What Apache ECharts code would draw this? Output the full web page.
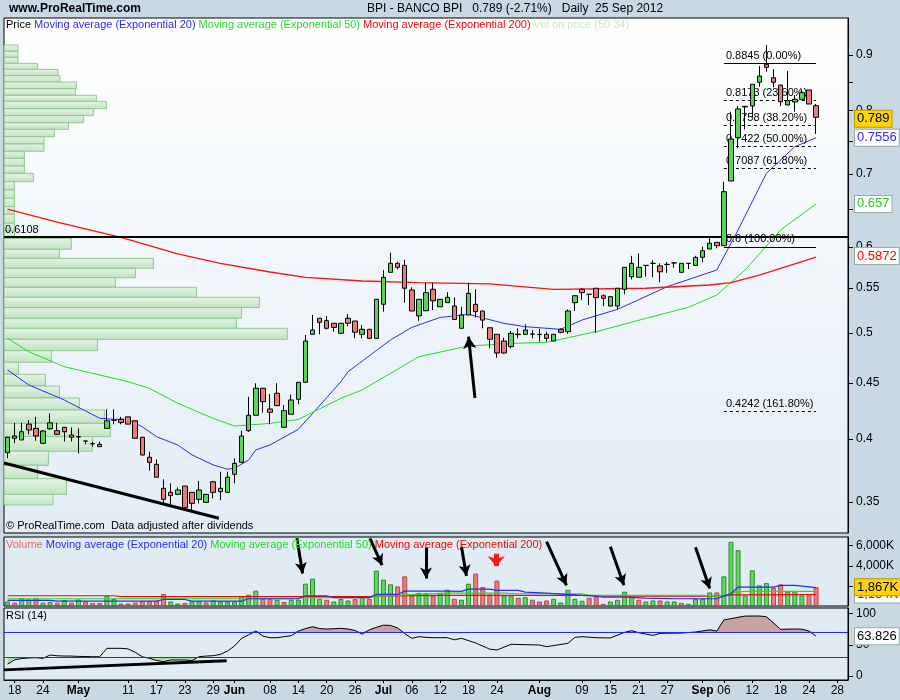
<!DOCTYPE html>
<html><head><meta charset="utf-8">
<script src="https://cdn.jsdelivr.net/npm/echarts@6/dist/echarts.min.js"></script>
<style>html,body{margin:0;padding:0;background:#c9d9e3}#c{width:900px;height:700px}</style>
</head><body><div id="c"></div><script>
// ---------- DATA ----------
const tradingDays = [
 'Apr 17','Apr 18','Apr 19','Apr 20','Apr 23','Apr 24','Apr 25','Apr 26','Apr 27','Apr 30',
 'May 2','May 3','May 4','May 7','May 8','May 9','May 10','May 11','May 14','May 15','May 16','May 17','May 18','May 21','May 22','May 23','May 24','May 25','May 28','May 29','May 30','May 31',
 'Jun 1','Jun 4','Jun 5','Jun 6','Jun 7','Jun 8','Jun 11','Jun 12','Jun 13','Jun 14','Jun 15','Jun 18','Jun 19','Jun 20','Jun 21','Jun 22','Jun 25','Jun 26','Jun 27','Jun 28','Jun 29',
 'Jul 2','Jul 3','Jul 4','Jul 5','Jul 6','Jul 9','Jul 10','Jul 11','Jul 12','Jul 13','Jul 16','Jul 17','Jul 18','Jul 19','Jul 20','Jul 23','Jul 24','Jul 25','Jul 26','Jul 27','Jul 30','Jul 31',
 'Aug 1','Aug 2','Aug 3','Aug 6','Aug 7','Aug 8','Aug 9','Aug 10','Aug 13','Aug 14','Aug 15','Aug 16','Aug 17','Aug 20','Aug 21','Aug 22','Aug 23','Aug 24','Aug 27','Aug 28','Aug 29','Aug 30','Aug 31',
 'Sep 3','Sep 4','Sep 5','Sep 6','Sep 7','Sep 10','Sep 11','Sep 12','Sep 13','Sep 14','Sep 17','Sep 18','Sep 19','Sep 20','Sep 21','Sep 24','Sep 25'];
const futureDays = ['Sep 26','Sep 27','Sep 28','Oct 1'];

const xTickDates = ['Apr 18','Apr 24','May 2','May 11','May 17','May 23','May 29','Jun 1','Jun 8','Jun 14','Jun 20','Jun 26','Jul 2','Jul 6','Jul 12','Jul 18','Jul 24','Aug 1','Aug 9','Aug 15','Aug 21','Aug 27','Sep 3','Sep 6','Sep 12','Sep 18','Sep 24','Sep 28'];
const xTickTexts = ['18','24','May','11','17','23','29','Jun','08','14','20','26','Jul','06','12','18','24','Aug','09','15','21','27','Sep','06','12','18','24','28'];

const open = [
0.3884,0.4024,0.3990,0.4126,0.4089,0.3962,0.4086,0.4069,0.4098,0.4032,
0.4018,0.3981,0.3957,0.3934,0.4089,0.4160,0.4168,0.4190,0.4155,0.4013,
0.3847,0.3790,0.3603,0.3572,0.3557,0.3620,0.3572,0.3520,0.3497,0.3653,
0.3577,0.3572,0.3711,0.3806,0.4069,0.4204,0.4451,0.4260,0.4404,0.4098,
0.4213,0.4348,0.4507,0.4988,0.5160,0.5134,0.5106,0.4999,0.5160,0.5130,
0.4988,0.5041,0.4946,0.5315,0.5686,0.5795,0.5770,0.5478,0.5186,0.5243,
0.5486,0.5287,0.5333,0.5295,0.5052,0.5196,0.5315,0.5240,0.5058,0.4988,
0.4918,0.4860,0.4985,0.4988,0.4990,0.4988,0.4988,0.4918,0.5041,0.5016,
0.5333,0.5486,0.5428,0.5498,0.5412,0.5295,0.5295,0.5486,0.5634,0.5627,
0.5770,0.5795,0.5765,0.5782,0.5801,0.5686,0.5795,0.5770,0.5870,0.5973,
0.6058,0.6015,0.6896,0.7557,0.8065,0.8081,0.8496,0.8825,0.8578,0.8447,
0.8098,0.8149,0.8196,0.8359,0.8085];
const high = [
0.4013,0.4137,0.4137,0.4162,0.4190,0.4075,0.4219,0.4137,0.4100,0.4098,
0.4089,0.3981,0.3976,0.3976,0.4257,0.4257,0.4190,0.4190,0.4160,0.4013,
0.3892,0.3830,0.3672,0.3641,0.3610,0.3620,0.3572,0.3659,0.3557,0.3660,
0.3731,0.3731,0.3838,0.4069,0.4372,0.4498,0.4451,0.4397,0.4498,0.4296,
0.4391,0.4507,0.4981,0.5196,0.5160,0.5185,0.5106,0.5106,0.5206,0.5130,
0.5087,0.5041,0.5371,0.5713,0.5928,0.5815,0.5840,0.5509,0.5371,0.5563,
0.5563,0.5371,0.5452,0.5394,0.5287,0.5563,0.5486,0.5240,0.5058,0.4988,
0.4953,0.5023,0.5052,0.5094,0.5034,0.5048,0.5016,0.4988,0.5052,0.5258,
0.5412,0.5498,0.5430,0.5498,0.5428,0.5401,0.5498,0.5747,0.5888,0.5917,
0.5775,0.5833,0.5795,0.5810,0.5810,0.5795,0.5795,0.5888,0.6003,0.6123,
0.6058,0.6886,0.7984,0.8081,0.8081,0.8460,0.8793,0.9192,0.8732,0.8447,
0.8700,0.8271,0.8371,0.8359,0.8115];
const low = [
0.3838,0.3962,0.3990,0.4038,0.3984,0.3962,0.4075,0.4032,0.3976,0.3976,
0.3878,0.3953,0.3934,0.3934,0.4089,0.4124,0.4124,0.4126,0.4004,0.3865,
0.3739,0.3688,0.3483,0.3483,0.3557,0.3458,0.3429,0.3490,0.3497,0.3527,
0.3513,0.3572,0.3641,0.3806,0.4059,0.4204,0.4227,0.4125,0.4290,0.4098,
0.4213,0.4303,0.4507,0.4988,0.4988,0.5041,0.5016,0.4999,0.5076,0.4946,
0.4946,0.4942,0.4946,0.5232,0.5686,0.5722,0.5333,0.5240,0.5132,0.5243,
0.5250,0.5287,0.5333,0.5147,0.5052,0.5196,0.5169,0.5052,0.4843,0.4746,
0.4789,0.4843,0.4946,0.4988,0.4946,0.4911,0.4911,0.4918,0.4999,0.4992,
0.5240,0.5364,0.5306,0.5005,0.5295,0.5295,0.5258,0.5428,0.5603,0.5627,
0.5634,0.5627,0.5568,0.5680,0.5742,0.5686,0.5725,0.5765,0.5810,0.5973,
0.5982,0.6015,0.6896,0.7390,0.7692,0.7890,0.8417,0.8688,0.8406,0.8081,
0.8098,0.7984,0.8196,0.8115,0.7616];
const close = [
0.4013,0.4004,0.4060,0.4075,0.4024,0.4066,0.4137,0.4038,0.4060,0.4013,
0.4015,0.3981,0.3960,0.3953,0.4155,0.4160,0.4140,0.4126,0.4004,0.3865,
0.3806,0.3688,0.3520,0.3547,0.3590,0.3458,0.3490,0.3590,0.3557,0.3572,
0.3603,0.3688,0.3798,0.4024,0.4204,0.4451,0.4326,0.4230,0.4290,0.4245,
0.4342,0.4507,0.4918,0.5034,0.5116,0.5052,0.5062,0.5106,0.5106,0.5010,
0.5041,0.4946,0.5371,0.5627,0.5795,0.5747,0.5498,0.5240,0.5371,0.5447,
0.5354,0.5371,0.5394,0.5147,0.5196,0.5440,0.5232,0.5140,0.4936,0.4795,
0.4795,0.4999,0.4990,0.5034,0.4990,0.4985,0.4946,0.4988,0.5009,0.5240,
0.5412,0.5447,0.5428,0.5390,0.5382,0.5401,0.5498,0.5747,0.5795,0.5747,
0.5770,0.5795,0.5692,0.5782,0.5801,0.5795,0.5795,0.5868,0.5952,0.6046,
0.6015,0.6742,0.7536,0.8030,0.8075,0.8460,0.8609,0.8769,0.8496,0.8154,
0.8172,0.8196,0.8311,0.8115,0.7890];
// volume in thousands of shares
const volume = [
450,330,800,650,800,330,400,330,600,330,
650,450,300,300,1000,700,250,250,350,500,
500,500,1200,450,250,300,450,450,350,550,
450,450,450,990,1120,1520,720,720,620,400,
620,620,2220,2720,720,620,450,690,550,690,
980,700,3520,2620,2150,1950,2950,1000,1300,1250,
1050,1250,1620,720,620,2220,3220,1880,1150,2520,
1050,1050,820,880,620,450,550,720,350,1620,
720,520,820,950,220,450,620,1420,950,620,
450,550,550,450,450,320,220,720,720,1350,
1350,2950,6380,5550,1050,3550,2050,2280,1820,2150,
1450,1450,1050,1050,1867];

// moving averages: [day index, value]
const ema20 = [[0,0.4626],[3,0.4482],[8,0.4342],[13,0.4177],[15,0.4168],[17,0.4168],[19,0.4103],[21,0.4018],[24,0.3948],[26,0.3866],[29,0.3785],[31,0.3751],[32,0.3759],[34,0.3825],[35,0.3907],[37,0.3948],[41,0.4081],[43,0.4219],[47,0.4513],[48,0.4609],[54,0.4929],[57,0.5062],[61,0.5169],[65,0.5204],[70,0.5105],[73,0.5069],[78,0.5041],[81,0.5141],[86,0.5258],[93,0.5516],[100,0.5714],[102,0.6046],[103,0.6218],[107,0.7009],[111,0.7415],[114,0.7556]];
const ema50 = [[0,0.4946],[3,0.4808],[8,0.4658],[13,0.4577],[17,0.4513],[20,0.4450],[24,0.4312],[29,0.4176],[32,0.4109],[37,0.4132],[41,0.4167],[47,0.4357],[50,0.4435],[58,0.4758],[65,0.4867],[72,0.4895],[76,0.4905],[83,0.5016],[90,0.5159],[96,0.5281],[100,0.5420],[104,0.5714],[109,0.6218],[114,0.657]];
const ema200 = [[0,0.6500],[7,0.6324],[16,0.6123],[24,0.5911],[30,0.5796],[37,0.5690],[42,0.5627],[50,0.5583],[58,0.5563],[68,0.5548],[77,0.5486],[90,0.5498],[99,0.5536],[102,0.5563],[106,0.5653],[114,0.5872]];

const volEma20 = [[0,550],[6,550],[7,480],[21,480],[22,650],[25,650],[26,480],[33,480],[34,720],[41,720],[42,1020],[45,1020],[46,830],[51,830],[52,1150],[55,1150],[56,1480],[62,1480],[64,1450],[65,1680],[68,1680],[69,1550],[72,1550],[73,1380],[76,1280],[81,1050],[83,980],[84,880],[87,880],[90,780],[94,720],[100,720],[101,1000],[102,1220],[103,1880],[108,1880],[109,2050],[111,2050],[114,1820]];
const volEma50 = [[0,720],[40,720],[42,830],[51,830],[52,980],[56,1100],[62,1280],[70,1280],[72,1220],[81,1220],[82,1050],[98,1050],[100,950],[101,950],[102,1320],[104,1450],[114,1450]];
const volEma200 = [[0,1020],[15,1020],[16,930],[51,930],[53,1000],[61,1050],[82,1050],[83,980],[101,980],[102,1100],[114,1134]];

const rsi = [[0,19],[1,26],[2,28],[3,29],[4,29.4],[5,28.4],[6,33.7],[7,32.5],[8,32],[9,32],[10,31.5],[12,31],[13,31],[14,44.4],[16,44.4],[17,43.4],[18,38],[19,31],[20,28.4],[21,25],[22,23],[23,25.7],[25,25.7],[26,24.6],[27,31],[28,32],[29,32.6],[30,34.7],[31,40],[32,48],[33,60.4],[34,66],[35,72.1],[36,64],[37,61.4],[38,61.4],[39,63],[40,64.6],[41,72],[42,76],[43,79],[44,76],[45,75.3],[46,75.8],[47,76.4],[48,75.3],[49,73],[50,67],[51,74],[52,78],[53,81.5],[54,81],[55,77],[56,68],[57,60.4],[58,63],[59,62],[60,61.4],[61,61.4],[62,61.5],[63,58],[64,60.4],[66,53],[68,43],[69,41.7],[71,50.8],[75,49.7],[76,47],[79,52.4],[80,62],[81,63],[83,61.4],[85,61],[87,70],[88,72.6],[89,69.4],[91,65],[92,68.4],[95,68.8],[97,70.5],[99,74],[100,72],[101,89.7],[103,94],[104,96],[106,96.1],[107,95],[109,74.8],[111,75.3],[112,75],[113,72],[114,63.826]];

// volume-on-price profile: bin edges (price, top to bottom) and relative volume per bin
const profileEdges = [0.9192,0.9071,0.8956,0.8843,0.8732,0.8615,0.8501,0.8381,0.8265,0.8161,0.8035,0.7917,0.7800,0.7692,0.7573,0.7457,0.7343,0.7235,0.7119,0.7010,0.6886,0.6767,0.6649,0.6532,0.6428,0.6307,0.6205,0.6108,0.5970,0.5857,0.5735,0.5622,0.5509,0.5394,0.5277,0.5160,0.5052,0.4936,0.4819,0.4702,0.4584,0.4472,0.4360,0.4251,0.4133,0.4018,0.3896,0.3782,0.3677,0.3557,0.3478];
const profileVol = [14,14,14,33.4,54,56,72.4,71.4,92.4,102.4,89.4,79.4,64.4,50.4,40,40,20.4,20.4,20.4,29.4,10.4,10.4,10.4,10.4,10.4,10.4,10.4,67.4,55.4,149.4,131.4,111.4,192.4,255.4,237.4,232.4,283.4,93.4,47.4,14.4,41.4,55.4,75.4,100.4,106.4,88.4,44.4,33.4,62.4,49];

// fibonacci retracement levels
const fibPrice = [0.8845,0.8173,0.7758,0.7422,0.7087,0.6,0.4242];
const fibPct = [0,23.6,38.2,50,61.8,100,161.8];
const fibFrom = 'Sep 6', fibTo = 'Sep 25';
const resistance = 0.6108;

// hand-drawn annotations [day index, value]
const priceTrend = [[-0.5,0.3800],[29.8,0.3382]];
const priceArrow = [[65.9,0.4360],[65.0,0.4963]];
const volArrows = [
 [[40.8,6730],[41.6,3230]],
 [[51.1,6730],[52.8,4060]],
 [[59.0,5830],[59.0,2730]],
 [[64.0,5890],[64.7,2990]],
 [[76.0,6390],[78.8,2060]],
 [[85.0,5890],[86.9,2060]],
 [[97.0,5830],[99.0,1730]]];
const volRedArrow = [[68.9,5200],[68.9,3960]];
const rsiTrend = [[-0.5,9.9],[30.9,24.6]];

const priceTicks = [0.35,0.4,0.45,0.5,0.55,0.6,0.65,0.7,0.75,0.8,0.85,0.9];
const priceTickLabels = [0.35,0.4,0.45,0.5,0.55,0.6,0.7,0.8,0.9];

// ---------- CHART ----------
const FONT = '"Liberation Sans", Arial, sans-serif';
const LN = Math.log;
const cats = tradingDays.concat(futureDays);
const N = cats.length;
const tickMap = new Map(xTickDates.map((d, i) => [d, xTickTexts[i]]));
const isTick = (idx, val) => tickMap.has(val);

const grad = (a, b) => new echarts.graphic.LinearGradient(0, 0, 0, 1, [{offset: 0, color: a}, {offset: 1, color: b}]);

const G0 = {left: 4, top: 18, width: 844, height: 515};
const G1 = {left: 4, top: 537, width: 844, height: 69};
const G2 = {left: 4, top: 608, width: 844, height: 72};

const hiddenCat = gi => ({type: 'category', gridIndex: gi, data: cats, show: false, boundaryGap: true, axisLine: {onZero: false}});
const hiddenVal = gi => ({type: 'value', gridIndex: gi, min: -0.5, max: N - 0.5, show: false, axisLine: {onZero: false}});

const lnPair = arr => arr.map(p => [p[0], LN(p[1])]);
const fmtPrice = v => String(parseFloat(v.toFixed(4)));

const candleData = open.map((o, i) => [LN(o), LN(close[i]), LN(low[i]), LN(high[i])]);
const volData = volume.map((v, i) => {
  const up = i === 0 ? close[i] >= open[i] : close[i] >= close[i - 1];
  return {value: v, itemStyle: up ? {color: '#5ed85e', borderColor: '#2e8b2e'} : {color: '#f07a7a', borderColor: '#b04a4a'}};
});

const SOLID = (color, width) => ({color, width, type: 'solid', opacity: 1});
const arrowLine = (pts, color, width, size) => [{coord: pts[0], symbol: 'none', lineStyle: SOLID(color, width)}, {coord: pts[1], symbol: 'arrow', symbolSize: size}];
const HIDDEN_LINE = {color: 'rgba(0,0,0,0)', width: 1, type: 'solid'};

const tagLabel = (text, color, bg, border) => ({show: true, position: 'end', distance: 7, formatter: text, color, backgroundColor: bg, borderColor: border, borderWidth: 1, padding: [2, 2, 1, 2], fontSize: 13, fontFamily: FONT});
const tag = (val, text, color, bg, border) => ({yAxis: val, lineStyle: HIDDEN_LINE, label: tagLabel(text, color, bg, border)});

const lastOf = a => a[a.length - 1];

const yBase = {type: 'value', position: 'right', splitLine: {show: false},
  axisLine: {show: true, onZero: false, lineStyle: {color: '#000'}}};

const option = {
  animation: false,
  backgroundColor: '#c9d9e3',
  grid: [
    Object.assign({show: true, backgroundColor: grad('#ffffff', '#e3edf5'), borderColor: '#000', borderWidth: 1}, G0),
    Object.assign({show: true, backgroundColor: '#e1ebf3', borderColor: '#000', borderWidth: 1}, G1),
    Object.assign({show: true, backgroundColor: '#e1ebf3', borderColor: '#000', borderWidth: 1}, G2)
  ],
  xAxis: [
    hiddenCat(0), hiddenVal(0),
    hiddenCat(1), hiddenVal(1),
    {type: 'category', gridIndex: 2, data: cats, boundaryGap: true,
      axisLine: {show: true, onZero: false, lineStyle: {color: '#000'}},
      axisTick: {show: true, interval: isTick, alignWithLabel: true, length: 3, lineStyle: {color: '#000'}},
      axisLabel: {interval: isTick, margin: 5, fontSize: 12, fontFamily: FONT, color: '#000',
        formatter: v => { const t = tickMap.get(v) || ''; return /^[A-Z]/.test(t) ? '{m|' + t + '}' : t; },
        rich: {m: {fontWeight: 'bold', fontSize: 12, fontFamily: FONT, color: '#000'}}},
      splitLine: {show: false}},
    hiddenVal(2),
    {type: 'value', gridIndex: 0, min: 0, max: 844, show: false, axisLine: {onZero: false}}
  ],
  yAxis: [
    Object.assign({}, yBase, {gridIndex: 0, min: LN(0.3278), max: LN(0.9732),
      axisTick: {show: true, length: 5, customValues: priceTicks.map(LN), lineStyle: {color: '#000'}},
      axisLabel: {customValues: priceTickLabels.map(LN), formatter: v => String(parseFloat(Math.exp(v).toFixed(2))), fontSize: 12, fontFamily: FONT, color: '#000', margin: 8}}),
    Object.assign({}, yBase, {gridIndex: 1, min: 0, max: 6860,
      axisTick: {show: true, length: 5, customValues: [2000, 4000, 6000], lineStyle: {color: '#000'}},
      axisLabel: {customValues: [2000, 4000, 6000], formatter: v => (v / 1000) + ',000K', fontSize: 12, fontFamily: FONT, color: '#000', margin: 8}}),
    Object.assign({}, yBase, {gridIndex: 2, min: -6.3, max: 108.9,
      axisTick: {show: true, length: 5, customValues: [0, 50, 100], lineStyle: {color: '#000'}},
      axisLabel: {customValues: [0, 50, 100], fontSize: 12, fontFamily: FONT, color: '#000', margin: 8}})
  ],
  series: [
    // volume on price profile
    {type: 'custom', xAxisIndex: 6, yAxisIndex: 0, z: 1, silent: true,
      data: profileVol.map((v, i) => [v, LN(profileEdges[i]), LN(profileEdges[i + 1])]),
      encode: {x: 0, y: [1, 2]},
      renderItem: (params, api) => {
        const a = api.coord([0, api.value(1)]);
        const b = api.coord([api.value(0), api.value(2)]);
        return {type: 'rect', shape: {x: a[0], y: a[1], width: b[0] - a[0], height: b[1] - a[1]},
          style: {fill: grad('#e4f4e4', '#bfe2bf'), stroke: '#8cc68c', lineWidth: 1, opacity: 0.95}};
      }},
    // candles
    {type: 'candlestick', xAxisIndex: 0, yAxisIndex: 0, z: 5, data: candleData, barWidth: 5,
      itemStyle: {color: '#55d655', color0: '#ef7878', borderColor: '#000', borderColor0: '#000', borderColorDoji: '#000', borderWidth: 1}},
    // moving averages
    {type: 'line', xAxisIndex: 1, yAxisIndex: 0, z: 4, data: lnPair(ema20), showSymbol: false, silent: true, lineStyle: {color: '#2a2aff', width: 1}},
    {type: 'line', xAxisIndex: 1, yAxisIndex: 0, z: 4, data: lnPair(ema50), showSymbol: false, silent: true, lineStyle: {color: '#1ee01e', width: 1}},
    {type: 'line', xAxisIndex: 1, yAxisIndex: 0, z: 4, data: lnPair(ema200), showSymbol: false, silent: true, lineStyle: {color: '#ff1010', width: 1.3}},
    // resistance line, trendline, arrow
    {type: 'line', xAxisIndex: 1, yAxisIndex: 0, z: 6, data: [], silent: true,
      markLine: {silent: true, symbol: 'none', animation: false,
        data: [
          {yAxis: LN(resistance), lineStyle: SOLID('#000', 2),
            label: {show: true, position: 'insideStartTop', formatter: String(resistance), color: '#000', fontSize: 11, fontFamily: FONT, distance: [1, 2]}},
          [{coord: [priceTrend[0][0], LN(priceTrend[0][1])], lineStyle: SOLID('#000', 3)}, {coord: [priceTrend[1][0], LN(priceTrend[1][1])]}],
          [{coord: [priceArrow[0][0], LN(priceArrow[0][1])], lineStyle: SOLID('#000', 3)}, {coord: [priceArrow[1][0], LN(priceArrow[1][1])], symbol: 'arrow', symbolSize: [10, 12]}]
        ]}},
    // fibonacci
    {type: 'line', xAxisIndex: 0, yAxisIndex: 0, z: 6, data: [], silent: true,
      markLine: {silent: true, symbol: 'none', animation: false,
        data: fibPrice.map((p, i) => [
          {coord: [fibFrom, LN(p)], lineStyle: {color: '#000', width: 1, type: (fibPct[i] === 0 || fibPct[i] === 100) ? 'solid' : [3, 3]},
            label: {show: true, position: 'insideStartTop', formatter: fmtPrice(p) + ' (' + fibPct[i].toFixed(2) + '%)', color: '#000', fontSize: 11, fontFamily: FONT, distance: [2, 2]}},
          {coord: [fibTo, LN(p)]}])}},
    // price tags on the axis
    {type: 'line', xAxisIndex: 1, yAxisIndex: 0, z: 10, data: [], silent: true,
      markLine: {silent: true, symbol: 'none', animation: false,
        data: [
          tag(LN(lastOf(ema200)[1]), fmtPrice(lastOf(ema200)[1]), '#ff0000', '#ffffff', '#9aa'),
          tag(LN(lastOf(ema50)[1]), fmtPrice(lastOf(ema50)[1]), '#22cc22', '#ffffff', '#9aa'),
          tag(LN(lastOf(ema20)[1]), fmtPrice(lastOf(ema20)[1]), '#2a2aff', '#ffffff', '#9aa'),
          tag(LN(lastOf(close)), fmtPrice(lastOf(close)), '#000', '#ffd400', '#b89a00')
        ]}},
    // volume
    {type: 'bar', xAxisIndex: 2, yAxisIndex: 1, z: 3, data: volData, barWidth: 5, itemStyle: {borderWidth: 1}},
    {type: 'line', xAxisIndex: 3, yAxisIndex: 1, z: 4, data: volEma200, showSymbol: false, silent: true, lineStyle: {color: '#ff0000', width: 1.2}},
    {type: 'line', xAxisIndex: 3, yAxisIndex: 1, z: 4, data: volEma50, showSymbol: false, silent: true, lineStyle: {color: '#1ee01e', width: 1.2}},
    {type: 'line', xAxisIndex: 3, yAxisIndex: 1, z: 4, data: volEma20, showSymbol: false, silent: true, lineStyle: {color: '#2a2aff', width: 1.2}},
    {type: 'line', xAxisIndex: 3, yAxisIndex: 1, z: 6, data: [], silent: true,
      markLine: {silent: true, symbol: 'none', animation: false,
        data: volArrows.map(a => arrowLine(a, '#000', 3, [9, 11])).concat([arrowLine(volRedArrow, '#ff1a1a', 5, [13, 10])])}},
    {type: 'line', xAxisIndex: 3, yAxisIndex: 1, z: 9, data: [], silent: true,
      markLine: {silent: true, symbol: 'none', animation: false,
        data: [
          {yAxis: lastOf(volEma200)[1], lineStyle: HIDDEN_LINE, label: tagLabel(lastOf(volEma200)[1].toLocaleString('en-US') + 'K', '#ff0000', '#ffffff', '#9aa')},
          {yAxis: lastOf(volume), lineStyle: HIDDEN_LINE, label: tagLabel(lastOf(volume).toLocaleString('en-US') + 'K', '#000', '#ffd400', '#b89a00')}
        ]}},
    // RSI
    {type: 'line', xAxisIndex: 5, yAxisIndex: 2, z: 2, data: rsi.map(p => [p[0], Math.max(p[1], 70)]), showSymbol: false, silent: true,
      lineStyle: {width: 0, opacity: 0}, areaStyle: {origin: 70, color: '#c9a2a2', opacity: 1}},
    {type: 'line', xAxisIndex: 5, yAxisIndex: 2, z: 2, data: rsi.map(p => [p[0], Math.min(p[1], 30)]), showSymbol: false, silent: true,
      lineStyle: {width: 0, opacity: 0}, areaStyle: {origin: 30, color: '#a9dca9', opacity: 1}},
    {type: 'line', xAxisIndex: 5, yAxisIndex: 2, z: 4, data: rsi, showSymbol: false, silent: true, lineStyle: {color: '#000', width: 1},
      markLine: {silent: true, symbol: 'none', animation: false,
        data: [
          {yAxis: 70, lineStyle: SOLID('#2525ff', 1), label: {show: false}},
          {yAxis: 30, lineStyle: SOLID('#2525ff', 1), label: {show: false}},
          [{coord: rsiTrend[0], lineStyle: SOLID('#000', 3)}, {coord: rsiTrend[1]}]
        ]}},
    {type: 'line', xAxisIndex: 5, yAxisIndex: 2, z: 9, data: [], silent: true,
      markLine: {silent: true, symbol: 'none', animation: false,
        data: [{yAxis: lastOf(rsi)[1], lineStyle: HIDDEN_LINE, label: tagLabel(String(lastOf(rsi)[1]), '#000', '#ffffff', '#9aa')}]}}
  ],
  graphic: [
    {type: 'text', x: 9, y: 9, style: {text: 'www.ProRealTime.com', fontSize: 12, fontWeight: 'bold', fontFamily: FONT, fill: '#000', verticalAlign: 'middle'}},
    {type: 'text', x: 367, y: 9, style: {text: 'BPI - BANCO BPI   0.789 (-2.71%)   Daily  25 Sep 2012', fontSize: 12, fontFamily: FONT, fill: '#000', verticalAlign: 'middle'}},
    {type: 'text', x: 6, y: 25, z: 20, style: {
      text: '{k|Price} {b|Moving average (Exponential 20)} {g|Moving average (Exponential 50)} {r|Moving average (Exponential 200)} {v|Vol on price (50 34)}',
      verticalAlign: 'middle', fontSize: 11, fontFamily: FONT,
      rich: {k: {fill: '#000', fontSize: 11, fontFamily: FONT}, b: {fill: '#2a2aff', fontSize: 11, fontFamily: FONT}, g: {fill: '#1ee01e', fontSize: 11, fontFamily: FONT}, r: {fill: '#ff0000', fontSize: 11, fontFamily: FONT}, v: {fill: '#c8ecc8', fontSize: 11, fontFamily: FONT}}}},
    {type: 'text', x: 6, y: 526, z: 20, style: {text: '\u00a9 ProRealTime.com  Data adjusted after dividends', fontSize: 11, fontFamily: FONT, fill: '#000', verticalAlign: 'middle'}},
    {type: 'text', x: 6, y: 545, z: 20, style: {
      text: '{vo|Volume} {b|Moving average (Exponential 20)} {g|Moving average (Exponential 50)} {r|Moving average (Exponential 200)}',
      verticalAlign: 'middle', fontSize: 11, fontFamily: FONT,
      rich: {vo: {fill: '#e86a6a', fontSize: 11, fontFamily: FONT}, b: {fill: '#2a2aff', fontSize: 11, fontFamily: FONT}, g: {fill: '#1ee01e', fontSize: 11, fontFamily: FONT}, r: {fill: '#ff0000', fontSize: 11, fontFamily: FONT}}}},
    {type: 'text', x: 6, y: 616, z: 20, style: {text: 'RSI (14)', fontSize: 11, fontFamily: FONT, fill: '#000', verticalAlign: 'middle'}}
  ]
};
const chart = echarts.init(document.getElementById('c'));
chart.setOption(option);
</script></body></html>
